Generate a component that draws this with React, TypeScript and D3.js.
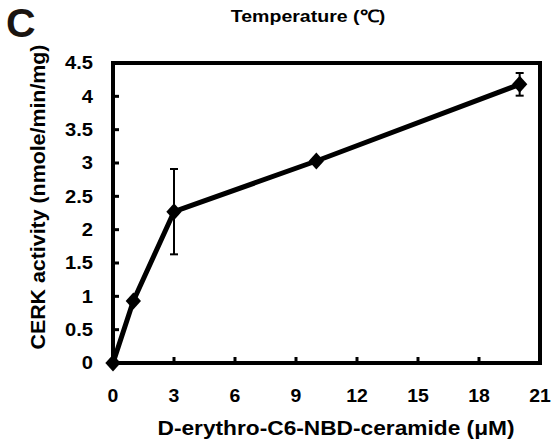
import * as d3 from 'd3';

const concentrations = [0, 1, 3, 10, 20];
const activity = [0, 0.93, 2.27, 3.03, 4.18];
const errors = [0, 0, 0.64, 0, 0.17];
const xTicks = [0, 3, 6, 9, 12, 15, 18, 21];
const yTicks = [0, 0.5, 1, 1.5, 2, 2.5, 3, 3.5, 4, 4.5];

const width = 551;
const height = 444;
const margin = { top: 63, right: 11, bottom: 81, left: 113 };
const font = 'Liberation Sans, Arial, sans-serif';

export default function App() {
  const innerW = width - margin.left - margin.right;
  const innerH = height - margin.top - margin.bottom;
  const x = d3.scaleLinear().domain([0, 21]).range([0, innerW]);
  const y = d3.scaleLinear().domain([0, 4.5]).range([innerH, 0]);
  const pts = concentrations.map((c, i) => ({ c, v: activity[i], e: errors[i] }));
  const line = d3.line<{ c: number; v: number }>().x(d => x(d.c)).y(d => y(d.v));
  // diamond marker: rotated square
  const marker = d3.symbol().type(d3.symbolSquare).size(130)();

  return (
    <svg width={width} height={height} style={{ position: 'absolute', left: 0, top: 0, background: '#fff' }}>
      <text x={6} y={37} fontFamily={font} fontWeight="bold" fontSize={41} fill="#1a1410">C</text>
      <text
        transform="translate(308,22) scale(1.15,1)"
        textAnchor="middle"
        fontFamily={font}
        fontWeight="bold"
        fontSize={17}
      >
        Temperature (℃)
      </text>
      <g transform={`translate(${margin.left},${margin.top})`}>
        <rect x={0} y={0} width={innerW} height={innerH} fill="none" stroke="#000" strokeWidth={4} />
        {yTicks.map(t => (
          <g key={t}>
            <line x1={0} x2={6} y1={y(t)} y2={y(t)} stroke="#000" strokeWidth={3} />
            <text
              transform={`translate(-20,${y(t)}) scale(1.12,1)`}
              dy="0.36em"
              textAnchor="end"
              fontFamily={font}
              fontWeight="bold"
              fontSize={18}
            >
              {t}
            </text>
          </g>
        ))}
        {xTicks.map(t => (
          <g key={t}>
            <line x1={x(t)} x2={x(t)} y1={innerH} y2={innerH - 6} stroke="#000" strokeWidth={3} />
            <text
              transform={`translate(${x(t)},${innerH + 39}) scale(1.08,1)`}
              textAnchor="middle"
              fontFamily={font}
              fontWeight="bold"
              fontSize={18}
            >
              {t}
            </text>
          </g>
        ))}
        <path d={line(pts) ?? ''} fill="none" stroke="#000" strokeWidth={5} strokeLinejoin="round" />
        {pts.filter(p => p.e > 0).map(p => (
          <g key={p.c} stroke="#000" strokeWidth={2}>
            <line x1={x(p.c)} x2={x(p.c)} y1={y(p.v - p.e)} y2={y(p.v + p.e)} />
            <line x1={x(p.c) - 4} x2={x(p.c) + 4} y1={y(p.v - p.e)} y2={y(p.v - p.e)} />
            <line x1={x(p.c) - 4} x2={x(p.c) + 4} y1={y(p.v + p.e)} y2={y(p.v + p.e)} />
          </g>
        ))}
        {pts.map(p => (
          <path
            key={p.c}
            d={marker ?? ''}
            transform={`translate(${x(p.c)},${y(p.v)}) scale(0.95,1.05) rotate(45)`}
            fill="#000"
          />
        ))}
      </g>
      <text
        transform={`translate(45,${margin.top + innerH / 2 - 16}) rotate(-90)`}
        textAnchor="middle"
        fontFamily={font}
        fontWeight="bold"
        fontSize={21}
        textLength={305}
        lengthAdjust="spacingAndGlyphs"
      >
        CERK activity (nmole/min/mg)
      </text>
      <text
        x={336}
        y={435}
        textAnchor="middle"
        fontFamily={font}
        fontWeight="bold"
        fontSize={21}
        textLength={357}
        lengthAdjust="spacingAndGlyphs"
      >
        D-erythro-C6-NBD-ceramide (μM)
      </text>
    </svg>
  );
}
